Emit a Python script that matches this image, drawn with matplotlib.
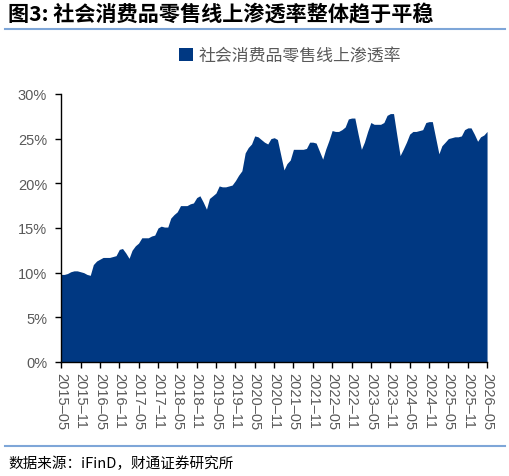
import pandas as pd
import matplotlib
matplotlib.use("Agg")
import matplotlib.pyplot as plt
import matplotlib.dates as mdates
from matplotlib.ticker import PercentFormatter

plt.rcParams['font.family'] = ['Liberation Sans', 'Noto Sans CJK SC', 'DejaVu Sans']

# monthly online share of retail sales (%), 2015-05 .. 2026-05
months = pd.date_range("2015-05-01", "2026-05-01", freq="MS")
share = [
    9.8, 9.8, 9.9, 10.1, 10.2, 10.2, 10.1, 10.0, 9.8,                        # 2015-05 .. 2016-01
    9.7, 10.9, 11.3, 11.5, 11.7, 11.7, 11.7, 11.8, 11.9, 12.6, 12.7, 12.2,   # 2016-02 .. 2017-01
    11.6, 12.5, 13.0, 13.3, 13.9, 13.9, 13.9, 14.1, 14.2, 15.0, 15.2, 15.1,  # 2017-02 .. 2018-01
    15.1, 16.1, 16.5, 16.8, 17.5, 17.5, 17.5, 17.7, 17.8, 18.4, 18.6, 17.9,  # 2018-02 .. 2019-01
    17.1, 18.3, 18.6, 18.9, 19.7, 19.6, 19.6, 19.7, 19.8, 20.3, 20.9, 21.4,  # 2019-02 .. 2020-01
    23.4, 24.0, 24.4, 25.3, 25.2, 24.9, 24.6, 24.4, 25.0, 25.1, 24.9, 23.2,  # 2020-02 .. 2021-01
    21.5, 22.2, 22.6, 23.8, 23.8, 23.8, 23.8, 23.9, 24.6, 24.6, 24.5, 23.6,  # 2021-02 .. 2022-01
    22.7, 23.8, 24.8, 25.9, 25.8, 25.8, 26.0, 26.3, 27.2, 27.3, 27.3, 25.5,  # 2022-02 .. 2023-01
    23.8, 24.6, 25.8, 26.8, 26.6, 26.6, 26.6, 26.8, 27.6, 27.8, 27.8, 25.4,  # 2023-02 .. 2024-01
    23.1, 23.8, 24.6, 25.5, 25.8, 25.8, 25.9, 26.0, 26.8, 26.9, 26.9, 25.1,  # 2024-02 .. 2025-01
    23.3, 24.2, 24.6, 25.0, 25.1, 25.2, 25.2, 25.3, 26.0, 26.2, 26.2, 25.5,  # 2025-02 .. 2026-01
    24.7, 25.2, 25.4, 25.8,                                                  # 2026-02 .. 2026-05
]
series_name = "社会消费品零售线上渗透率"
title = "图3: 社会消费品零售线上渗透率整体趋于平稳"
source = "数据来源：iFinD，财通证券研究所"
tick_dates = pd.date_range("2015-05-01", "2026-05-01", freq="6MS")

fig = plt.figure(figsize=(5.10, 4.77), dpi=100)
ax = fig.add_axes([0.1196, 0.239, 0.8354, 0.562])

ax.fill_between(months, 0, share, color="#003882", linewidth=0, label=series_name)
ax.set_xlim(months[0], months[-1])
ax.set_ylim(0, 30)
ax.set_yticks(range(0, 31, 5))
ax.yaxis.set_major_formatter(PercentFormatter(decimals=0))
ax.set_xticks(tick_dates)
ax.xaxis.set_major_formatter(mdates.DateFormatter("%Y\u2013%m"))

for s in ["top", "right"]:
    ax.spines[s].set_visible(False)
for s in ["left", "bottom"]:
    ax.spines[s].set_color("black")
    ax.spines[s].set_linewidth(1.0)
ax.tick_params(axis="both", direction="out", length=4, width=1, color="black",
               labelcolor="#595959", labelsize=10.5)
ax.tick_params(axis="y", pad=6)
ax.tick_params(axis="x", pad=3)
for lab in ax.get_xticklabels():
    lab.set_rotation(270)
    lab.set_va("top")
    lab.set_ha("center")

leg = fig.legend(loc="center", bbox_to_anchor=(0.568, 0.882), frameon=False,
                 handlelength=0.85, handleheight=0.85, handletextpad=0.3,
                 prop={"family": ["Noto Sans CJK SC"], "size": 12.2})
for t in leg.get_texts():
    t.set_color("#595959")

fig.text(0.016, 0.968, title, fontsize=15.2, fontweight="bold", color="black",
         family=["Noto Sans CJK SC", "DejaVu Sans"], ha="left", va="center")
fig.add_artist(plt.Line2D([0.01, 0.99], [0.937, 0.937], color="#7EA6D8", linewidth=1.5))
fig.add_artist(plt.Line2D([0.01, 0.99], [0.063, 0.063], color="#7EA6D8", linewidth=1.5))
fig.text(0.016, 0.027, source, fontsize=10.5, color="black",
         family=["Noto Sans CJK SC", "DejaVu Sans"], ha="left", va="center")

fig.savefig("out.png", dpi=100)
